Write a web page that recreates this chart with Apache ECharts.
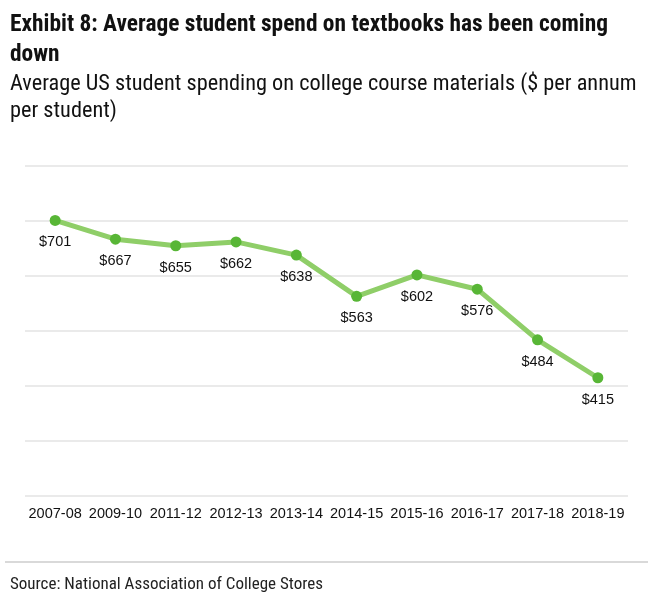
<!DOCTYPE html>
<html>
<head>
<meta charset="utf-8">
<script src="https://cdn.jsdelivr.net/npm/echarts@6/dist/echarts.min.js"></script>
<style>html,body{margin:0;padding:0;background:#fff}#c{width:650px;height:602px}</style>
</head>
<body>
<div id="c"></div>
<script>
const categories = ['2007-08','2009-10','2011-12','2012-13','2013-14','2014-15','2015-16','2016-17','2017-18','2018-19'];
const spending = [701, 667, 655, 662, 638, 563, 602, 576, 484, 415];
const yMin = 200, yMax = 800, yStep = 100;

const condensed = "'Liberation Sans Narrow', 'Roboto Condensed', 'Arial Narrow', Roboto, sans-serif";
const chart = echarts.init(document.getElementById('c'), null, {renderer: 'canvas'});
chart.setOption({
  backgroundColor: '#fff',
  animation: false,
  title: [
    {
      text: 'Exhibit 8: Average student spend on textbooks has been coming\ndown',
      left: 5, top: 5,
      textStyle: {fontFamily: condensed, fontSize: 23.4, fontWeight: 'bold', color: '#111', lineHeight: 30}
    },
    {
      text: 'Average US student spending on college course materials ($ per annum\nper student)',
      left: 5, top: 66,
      textStyle: {fontFamily: condensed, fontSize: 22.3, fontWeight: 'normal', color: '#111', lineHeight: 27}
    },
    {
      text: 'Source: National Association of College Stores',
      left: 5, top: 571,
      textStyle: {fontFamily: condensed, fontSize: 17, fontWeight: 'normal', color: '#222'}
    }
  ],
  graphic: [{
    type: 'line', shape: {x1: 5, y1: 562, x2: 648, y2: 562},
    style: {stroke: '#cccccc', lineWidth: 1.5}
  }],
  grid: {left: 25, right: 22, top: 166, bottom: 106},
  xAxis: {
    type: 'category',
    data: categories,
    boundaryGap: true,
    axisLine: {show: false},
    axisTick: {show: false},
    axisLabel: {color: '#111', fontSize: 14.5, fontFamily: 'Liberation Sans, Arial, sans-serif', margin: 10, interval: 0}
  },
  yAxis: {
    type: 'value',
    min: yMin, max: yMax, interval: yStep,
    axisLabel: {show: false},
    axisLine: {show: false},
    axisTick: {show: false},
    splitLine: {lineStyle: {color: '#e3e3e3', width: 1.5}}
  },
  series: [{
    type: 'line',
    data: spending,
    symbol: 'circle',
    symbolSize: 11,
    lineStyle: {color: '#8fce68', width: 5},
    itemStyle: {color: '#58b636'},
    label: {
      show: true, position: 'bottom', distance: 9,
      formatter: p => '$' + p.value,
      color: '#111', fontSize: 14.5, fontFamily: 'Liberation Sans, Arial, sans-serif'
    }
  }]
});
</script>
</body>
</html>
